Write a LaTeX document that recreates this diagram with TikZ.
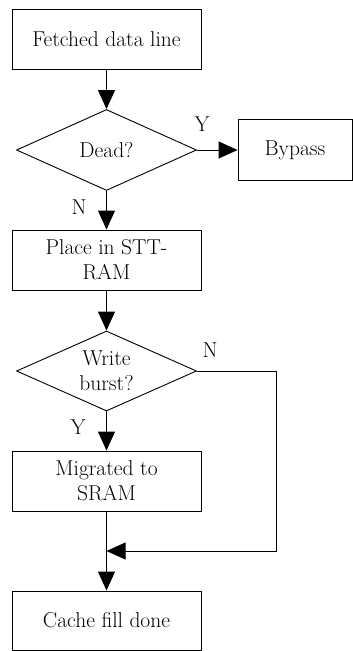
\documentclass[tikz,border=0pt]{standalone}
\usetikzlibrary{arrows.meta,shapes.geometric}
\begin{document}
\begin{tikzpicture}[x=1pt,y=-1pt,
  every node/.style={font=\fontsize{21.5}{25}\selectfont},
  stepbox/.style={draw,line width=0.9pt,minimum width=189pt,minimum height=60pt,inner sep=0pt,align=center},
  decision/.style={draw,line width=0.9pt,diamond,shape aspect=2.2,minimum width=180pt,minimum height=81pt,inner sep=0pt,align=center},
  arr/.style={line width=0.9pt,-{Triangle[length=19pt,width=17pt]}}]
\useasboundingbox (0,0) rectangle (353,651);

% process steps and decisions
\node[stepbox] (fetch) at (106.5,39) {Fetched data line};
\node[decision] (dead) at (106.5,150) {Dead?};
\node[stepbox,minimum width=114pt,minimum height=61pt] (bypass) at (295,150) {Bypass};
\node[stepbox] (place) at (106.5,260) {Place in STT-\\RAM};
\node[decision,minimum height=80pt] (write) at (106.5,371) {Write\\burst?};
\node[stepbox] (migr) at (106.5,481) {Migrated to\\SRAM};
\node[stepbox,minimum height=59pt] (done) at (106.5,620.5) {Cache fill done};

% branch labels
\node (ylab1) at (202,124) {Y};
\node (nlab1) at (79,207) {N};
\node (nlab2) at (210,350) {N};
\node (ylab2) at (78,427) {Y};

% helper points for the bypass of the migration step
\coordinate (corner) at (276,551);
\coordinate (merge) at (106.5,551);

% connectors
\draw[arr] (fetch.south) -- (dead.north);
\draw[arr] (dead.east) -- (bypass.west);
\draw[arr] (dead.south) -- (place.north);
\draw[arr] (place.south) -- (write.north);
\draw[arr] (write.south) -- (migr.north);
\draw[arr] (migr.south) -- (done.north);
\draw[arr] (write.east) -| (corner) -- (merge);
\end{tikzpicture}
\end{document}
